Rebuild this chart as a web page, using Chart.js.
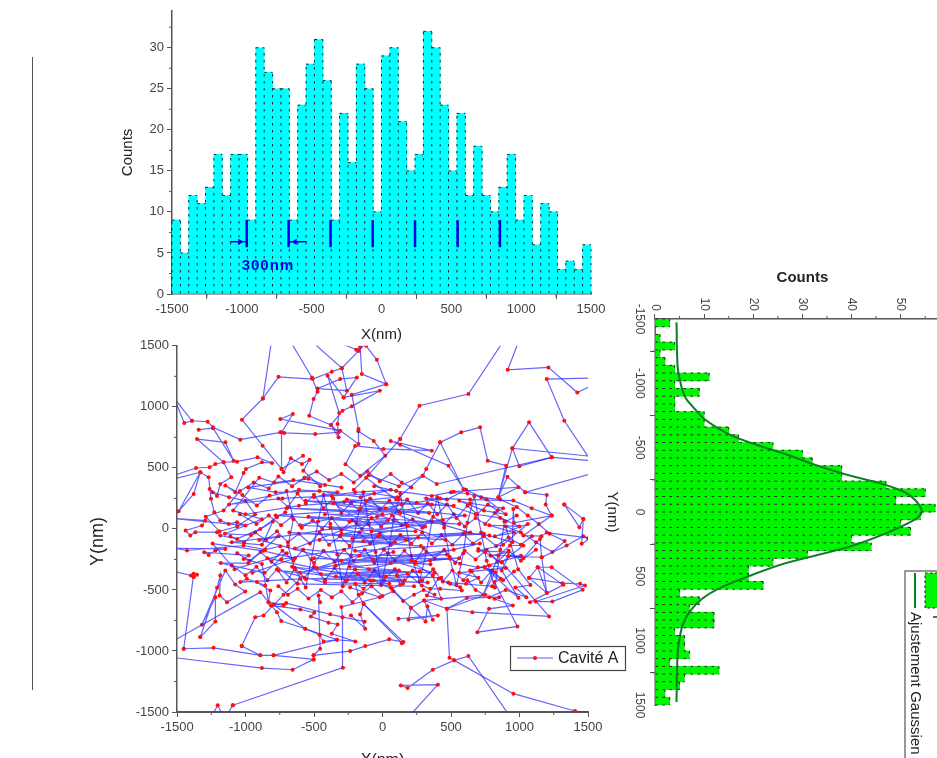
<!DOCTYPE html>
<html>
<head>
<meta charset="utf-8">
<script src="https://cdn.jsdelivr.net/npm/chart.js@4"></script>
<style>
html, body { margin: 0; padding: 0; background: #fff; width: 937px; height: 758px; overflow: hidden; }
canvas { position: absolute; filter: blur(0.35px); }
#rule { position: absolute; left: 32px; top: 57px; width: 1px; height: 633px; background: #555; }
#right { transform-origin: 0 0; transform: rotate(90deg); }
</style>
</head>
<body>
<div id="rule"></div>
<canvas id="bottom" width="650" height="440" style="left:0;top:335px"></canvas>
<canvas id="top" width="640" height="345" style="left:0;top:0"></canvas>
<canvas id="right" width="510" height="360" style="left:960px;top:250px"></canvas>
<script>
// bin centres, same bins for both histograms (nm)
let binCenters = [-1470,-1410,-1350,-1290,-1230,-1170,-1110,-1050,-990,-930,-870,-810,-750,-690,-630,-570,-510,-450,-390,-330,-270,-210,-150,-90,-30,30,90,150,210,270,330,390,450,510,570,630,690,750,810,870,930,990,1050,1110,1170,1230,1290,1350,1410,1470];
let xCounts = [9,5,12,11,13,17,12,17,17,9,30,27,25,25,9,23,28,31,26,9,22,16,28,25,10,29,30,21,15,17,32,30,23,15,22,12,18,12,10,13,17,9,12,6,11,10,3,4,3,6];
let yCounts = [3,0,1,4,1,2,4,11,4,9,4,4,10,10,15,17,24,30,32,38,38,47,55,49,57,54,50,52,40,44,31,24,19,19,22,5,9,7,12,12,4,6,6,7,3,13,6,5,2,3];

// gaussian fit
let fitY = [-1474,-1142,-1039,-883,-805,-727,-649,-584,-519,-454,-364,-286,-221,-156,-78,0,39,91,181,272,337,402,493,596,674,777,881,985,1114,1477];
let fitCounts = [4.4,4.6,5,6.3,8,9.9,12.9,16.2,20.9,26.2,32.8,39.4,46,50.7,53.3,54.3,53.6,51.3,46,39.4,32.8,26.2,19.5,12.9,9.6,7,5.6,5,4.6,4.4];

// cavity marks on the X histogram
let cavityX = [-965,-665,-365,-63,240,545,848];
let cavityLow = 5.7, cavityHigh = 9;
let arrowLeft = [[-1085,6.35],[-965,6.35]];
let arrowRight = [[-535,6.35],[-665,6.35]];
let arrowHeads = [[-1013,6.35],[-620,6.35]];

// trajectory pieces (x, y in nm)
let trackNorthWest = [[-810,1540],[-873,1069],[-1026,895],[-875,682],[-737,491],[-722,464],[-669,578],[-588,532],[-532,567],[-578,477],[-455,349]];
let trackNorth = [[-873,1069],[-759,1246],[-511,1227],[-370,1287],[-297,1317],[-175,1459],[-90,1560]];
let trackNorth2 = [[-669,1530],[-515,1241],[-474,1124],[-503,1064],[-535,927],[-377,851],[-321,791],[-491,777],[-717,786],[-746,791],[-1038,731],[-1237,832],[-1276,878],[-1391,886],[-1447,867],[-1520,1070],[-1391,886]];
let trackNorth3 = [[-510,1530],[-297,1317],[-260,1132],[-474,1150],[-309,1227],[-187,1241],[-284,1077],[-401,1255],[-316,949],[-328,859],[-321,750],[-377,851],[-292,968],[-224,1004],[-20,1132],[-284,1077]];
let trackNorth4 = [[-320,1530],[-175,1459],[-192,1467],[-163,1490],[-151,1268],[27,1186],[-41,1385],[-120,1500]];
let trackNorth5 = [[27,1186],[-224,1100],[-175,818],[-175,696],[-309,805],[-746,900],[-654,941],[-737,791],[-737,491],[-580,600]];
let trackFarLeft = [[-1342,813],[-1237,825],[-1087,559],[-1147,709],[-1354,736],[-1160,546],[-1104,423],[-1184,368],[-1208,270],[-1262,327]];
let trackWave = [[-1520,440],[-1361,499],[-1262,505],[-1220,532],[-1160,546],[-1062,551],[-912,586],[-807,540],[-880,545],[-997,491],[-1014,458],[-1075,300],[-1147,355],[-1023,278],[-917,191],[-824,273]];
let trackLeft = [[-1520,410],[-1330,464],[-1378,286],[-1488,145],[-1330,464],[-1269,423],[-1252,246],[-1228,136],[-1184,68],[-1123,41],[-1062,55],[-1002,27],[-1520,85],[-1293,68],[-1318,28],[-1437,-13],[-1403,-54],[-1366,-27],[-1208,-27],[-1184,-54],[-1062,-82],[-892,0],[-771,95],[-710,136]];
let trackNorthEast = [[129,736],[270,1009],[627,1105],[878,1530]];
let trackEast = [[992,1530],[914,1304],[1211,1323],[1422,1118],[1520,1170]];
let trackEast2 = [[1520,1236],[1199,1227],[1327,886],[1520,560],[1235,586],[1070,873],[948,660],[1520,595]];
let trackEast3 = [[1235,586],[999,513],[948,660],[846,259],[902,518],[768,559],[712,832],[574,791],[421,709],[319,491],[294,436],[100,240],[-120,420],[129,736]];
let trackEast4 = [[421,709],[591,327],[482,518],[129,690],[60,720],[360,641],[7,655],[-200,680],[-270,530],[-163,436],[20,600],[-64,720],[-176,800]];
let trackEast5 = [[1235,586],[396,368],[294,436],[120,350],[-100,440],[-210,320]];
let trackEast6 = [[1520,450],[1041,300],[912,428],[846,259],[992,341],[520,305],[360,270],[100,310],[-60,350]];
let trackEast7 = [[1041,300],[1199,278],[1191,199],[1235,109],[1089,169],[955,232],[640,240],[420,250],[250,215],[120,240]];
let trackEast8 = [[1327,199],[1466,82],[1437,14],[1327,199]];
let trackEast9 = [[1466,82],[1454,-122],[1520,-76],[1199,-30],[1160,-60],[1028,-54],[1235,109],[960,50],[955,164],[948,-109],[780,-55],[600,-30]];
let trackSouthEast = [[1500,-76],[1466,-60],[1344,-136],[1162,-232],[1150,-82],[1028,-240],[919,-224],[1162,-232],[1199,-524],[1070,-401],[1133,-314],[1235,-314],[1461,-499],[1240,-595],[1118,-595],[1478,-464],[1442,-450],[1313,-445],[1070,-401]];
let trackSouthEast2 = [[1077,-600],[1320,-458],[1133,-314],[1199,-524]];
let trackSouth = [[919,-224],[870,-341],[992,-565],[745,-314],[863,-409],[817,-436],[985,-799],[693,-846],[778,-655],[951,-627],[817,-573],[851,-559],[616,-567],[470,-654],[656,-682],[1216,-717],[870,-273]];
let trackSouth2 = [[470,-654],[489,-1055],[523,-1077],[955,-1350],[1405,-1492],[1540,-1510]];
let trackSouth3 = [[914,-1510],[627,-1042],[523,-1077],[367,-1154],[183,-1304],[134,-1282],[404,-1276],[215,-1510]];
let trackSouth4 = [[-503,-1036],[-236,-1001],[-126,-960],[49,-905],[153,-927],[-138,-614],[-163,-700],[-126,-818],[-230,-710]];
let trackSouth5 = [[141,-936],[-138,-614],[-175,-540],[-199,-450],[-138,-491],[-66,-423],[68,-491],[129,-458],[104,-382],[183,-368],[287,-464],[348,-491],[421,-491],[579,-505],[567,-477],[494,-450],[409,-409],[324,-546],[428,-573],[367,-382],[238,-286],[348,-259],[494,-245],[567,-286],[696,-314],[745,-314],[822,-355],[736,-540],[846,-218],[931,-136],[1028,-136],[870,-273],[748,-191],[699,-164]];
let trackSouth6 = [[117,-736],[404,-709],[190,-745],[207,-646],[314,-758],[328,-633],[367,-745],[304,-586],[470,-654],[749,-540],[304,-586],[207,-646],[60,-480]];
let trackSouthWest = [[-1451,-982],[-1233,-974],[-892,-1036],[-795,-1036],[-503,-1069],[-503,-1036],[-455,-982],[-459,-867],[-467,-546],[-455,-600]];
let trackSouthWest2 = [[-1028,-960],[-892,-1036]];
let trackSouthWest3 = [[-1520,-1055],[-880,-1140],[-656,-1154],[-503,-1069]];
let trackSouthWest4 = [[-1245,-1530],[-1203,-1445],[-1160,-1540]];
let trackSouthWest5 = [[-1092,-1445],[-1140,-1530]];
let trackSouthWest6 = [[-1092,-1445],[-289,-1137],[-292,-723],[-300,-640],[-20,-560],[-236,-480]];
let trackSouthWest7 = [[-1520,-914],[-892,-518],[-771,-682],[-739,-755],[-564,-818],[-459,-867],[-430,-922],[-333,-908],[-199,-922],[-370,-859],[-328,-783],[-394,-769],[-523,-717],[-498,-687],[-600,-660],[-814,-627],[-832,-600],[-722,-627]];
let trackSouthWest8 = [[-795,-1036],[-333,-908],[-564,-818],[-795,-620],[-703,-608],[-382,-700],[-130,-760]];
let trackWest = [[-1451,-982],[-1378,-368],[-1354,-376],[-1378,-396],[-1398,-382],[-1520,-349]];
let trackWest2 = [[-1330,-886],[-1208,-483],[-1184,-382],[-1189,-546],[-1135,-600],[-1002,-513],[-1075,-456],[-1147,-341],[-1318,-786],[-1220,-559],[-1220,-758],[-1330,-886]];
let trackWest3 = [[-1028,-960],[-929,-723],[-868,-709],[-723,-540],[-600,-409],[-1038,-436],[-990,-409],[-856,-464],[-917,-436],[-819,-505],[-832,-600],[-880,-287],[-1014,-246],[-977,-218],[-1301,-191],[-1269,-213],[-1220,-177],[-1147,-164],[-1520,-158],[-1427,-177],[-1014,-136],[-856,-169],[-746,-142]];
let trackCore = [[-740,-250],[260,-70],[-600,-360],[80,-190],[-340,-300],[520,-170],[-480,-320],[380,-360],[-200,-180],[710,-120],[-100,-330],[-900,-90],[40,70],[-540,100],[180,30],[-300,-40],[460,-90],[-160,170],[340,130],[-700,170],[0,120],[-420,120],[560,40],[-240,60],[140,200],[-600,30],[240,-20],[-80,-20],[600,110],[-360,210],[90,-110],[-460,-90],[280,-140],[-140,-100],[740,-40],[-30,-60],[-680,-30],[170,-90],[-380,10],[440,70],[-220,-80],[640,-30],[20,170],[-780,110],[310,20],[-120,230],[520,190],[-560,230],[130,130],[-260,240],[360,200],[-40,100],[-640,-160],[210,-260],[-300,-260],[470,-210],[-170,-220],[60,-280],[-500,-240],[350,-290],[-70,-250],[560,-240],[-240,-310],[120,-340],[-450,-370],[270,-350],[-340,-390],[430,-400],[-180,-370],[20,-390],[-560,-410],[160,-420],[-660,-310],[-260,-420],[330,-440],[-90,-420],[-760,-340],[-420,-440],[50,-450],[-840,-240],[-620,-450],[230,-470]];
let trackCore2 = [[-1000,120],[-610,190],[-280,220],[110,260],[-60,290],[-370,270],[-730,250],[-1120,200],[-610,320],[-330,300],[-500,260],[-200,300],[60,320],[-160,260],[-460,310],[-780,300],[-980,340],[-540,410],[-420,360],[-300,340],[-650,400],[-790,380],[-900,420],[-1090,150],[-880,80],[-1150,-40],[-960,-50],[-800,60],[-880,-130],[-1100,-110],[-760,-60],[-980,-280],[-1180,-280],[-860,-360],[-700,-200],[-1080,-330],[-1240,-120],[-870,-180],[-640,-240],[-950,-360]];
let trackCore3 = [[880,170],[640,210],[560,230],[740,150],[900,120],[760,240],[610,320],[470,240],[320,250],[680,120],[860,90],[1000,20],[780,30],[960,-30],[820,-60],[1060,40],[880,-130],[700,-180],[920,-190],[790,-220],[1010,-220],[640,-340],[780,-300],[900,-320],[560,-360],[700,-400],[610,-450],[480,-440],[800,-470]];
let trackBandA = [[-760,250],[-690,180],[-620,290],[-560,210],[-500,280],[-430,170],[-360,250],[-300,130],[-230,210],[-170,150],[-90,250],[-20,160],[50,230],[120,140],[180,240],[260,130],[330,210],[400,120],[470,200],[540,90],[620,190],[690,120],[770,200],[840,150]];
let trackBandB = [[980,110],[900,60],[820,130],[750,40],[680,90],[600,20],[520,120],[450,40],[370,100],[290,10],[220,80],[140,30],[70,110],[-10,20],[-80,90],[-150,0],[-220,70],[-300,-10],[-370,90],[-440,0],[-510,70],[-590,10],[-660,100],[-740,30],[-830,110],[-920,40],[-1040,120]];
let trackBandC = [[-1110,-60],[-1010,-110],[-930,-30],[-850,-90],[-770,-20],[-690,-110],[-610,-40],[-530,-120],[-460,-30],[-390,-130],[-310,-60],[-240,-140],[-170,-30],[-90,-120],[-20,-40],[60,-130],[130,-50],[210,-120],[290,-30],[360,-120],[430,-50],[510,-130],[590,-40],[660,-120],[740,-60],[830,-140],[920,-70],[1010,-130],[1090,-60]];
let trackBandD = [[1120,-170],[1010,-260],[920,-180],[840,-270],[760,-170],[680,-250],[600,-180],[530,-280],[450,-170],[380,-240],[300,-160],[240,-270],[160,-180],[90,-260],[10,-170],[-60,-280],[-130,-170],[-210,-260],[-280,-170],[-350,-270],[-430,-180],[-500,-280],[-580,-170],[-650,-260],[-730,-180],[-810,-270],[-890,-190],[-970,-260],[-1060,-200]];
let trackBandE = [[-1100,-300],[-1000,-380],[-920,-310],[-840,-420],[-770,-330],[-700,-440],[-640,-320],[-570,-400],[-500,-310],[-420,-420],[-350,-320],[-270,-430],[-200,-330],[-130,-440],[-60,-340],[10,-420],[90,-330],[150,-450],[220,-340],[290,-420],[370,-330],[440,-430],[510,-340],[590,-420],[650,-350],[720,-440],[800,-340],[880,-420],[960,-350]];
let trackCross = [[-700,310],[-650,80],[-690,-140],[-640,-330],[-560,-480],[-520,-250],[-470,60],[-430,280],[-380,40],[-330,-210],[-290,-470],[-230,-220],[-190,50],[-140,300],[-100,40],[-50,-190],[-10,-460],[40,-200],[80,70],[130,290],[170,40],[210,-220],[270,-430],[320,-190],[360,60],[400,260],[450,10],[490,-230],[540,-460],[590,-200],[620,50],[670,270],[720,-30],[760,-260],[820,-480],[860,-170],[890,60]];
let trackLeftFill = [[-1240,300],[-1120,260],[-1000,230],[-930,120],[-1060,20],[-1190,-20],[-1290,100],[-1160,150],[-1040,310],[-940,380],[-830,330],[-760,430],[-660,350],[-570,420],[-480,470],[-390,400],[-300,450],[-210,380],[-110,470],[-20,390],[60,450],[140,380],[210,340]];
let trackRightFill = [[500,300],[620,290],[720,260],[860,240],[980,180],[1060,110],[1140,40],[1220,-40],[1330,-100],[1240,-190],[1120,-110],[1010,-30],[900,20],[990,-330],[1080,-460],[970,-480],[1050,-560],[900,-500],[780,-560],[680,-500],[620,-420]];
let trackLowerFill = [[-760,-470],[-690,-540],[-620,-490],[-540,-570],[-450,-500],[-370,-560],[-300,-510],[-220,-600],[-150,-530],[-80,-470],[0,-550],[80,-510],[150,-590],[230,-540],[300,-500],[380,-540]];
let tracks = [trackNorthWest,trackNorth,trackNorth2,trackNorth3,trackNorth4,trackNorth5,trackFarLeft,trackWave,trackLeft,trackNorthEast,trackEast,trackEast2,trackEast3,trackEast4,trackEast5,trackEast6,trackEast7,trackEast8,trackEast9,trackSouthEast,trackSouthEast2,trackSouth,trackSouth2,trackSouth3,trackSouth4,trackSouth5,trackSouth6,trackSouthWest,trackSouthWest2,trackSouthWest3,trackSouthWest4,trackSouthWest5,trackSouthWest6,trackSouthWest7,trackSouthWest8,trackWest,trackWest2,trackWest3,trackCore,trackCore2,trackCore3,trackBandA,trackBandB,trackBandC,trackBandD,trackBandE,trackCross,trackLeftFill,trackRightFill,trackLowerFill];

const axisColor = '#555';
const textColor = '#444';
const fontName = '"Liberation Sans", Arial, sans-serif';

function pairs(xs, ys) {
    return xs.map((x, i) => ({x: x, y: ys[i]}));
}

// origin style dashed bar outline, dots up the bins
const barDash = {
    id: 'barDash',
    afterDatasetDraw(chart, args) {
        if (args.meta.type !== 'bar') return;
        const ctx = chart.ctx;
        const bars = args.meta.data;
        ctx.save();
        ctx.setLineDash([2.5, 4.5]);
        ctx.strokeStyle = '#222';
        ctx.lineWidth = 1;
        bars.forEach((bar, i) => {
            const l = bar.x - bar.width / 2, r = bar.x + bar.width / 2;
            // shared edge only once, up to the taller neighbour
            const prev = i > 0 ? bars[i - 1].y : bar.base;
            ctx.beginPath();
            ctx.moveTo(l, bar.base); ctx.lineTo(l, Math.min(bar.y, prev));
            if (i === bars.length - 1) { ctx.moveTo(r, bar.base); ctx.lineTo(r, bar.y); }
            if (bar.base !== bar.y) { ctx.moveTo(l, bar.y); ctx.lineTo(r, bar.y); }
            ctx.stroke();
        });
        ctx.restore();
    }
};

// unlabelled ticks half way between the labelled ones
const minorTicks = {
    id: 'minorTicks',
    afterDraw(chart) {
        const ctx = chart.ctx;
        ctx.save();
        ctx.strokeStyle = axisColor;
        ctx.lineWidth = 1;
        Object.values(chart.scales).forEach(scale => {
            const step = scale.options.ticks.stepSize;
            for (let v = scale.min + step / 2; v < scale.max; v += step) {
                const p = scale.getPixelForValue(v);
                ctx.beginPath();
                if (scale.isHorizontal()) { ctx.moveTo(p, scale.top); ctx.lineTo(p, scale.top + 3); }
                else { ctx.moveTo(scale.right, p); ctx.lineTo(scale.right - 3, p); }
                ctx.stroke();
            }
        });
        ctx.restore();
    }
};

function xyScales(xOpt, yOpt) {
    function one(o, axis) {
        return {
            type: 'linear',
            offset: false,
            min: o.min, max: o.max,
            grid: {drawOnChartArea: false, tickLength: 5, tickColor: axisColor, tickWidth: 1},
            border: {color: axisColor, width: o.lineWidth || 1.5},
            ticks: {stepSize: o.step, includeBounds: false, autoSkip: false, maxRotation: 0, padding: 3,
                color: textColor, font: {family: fontName, size: o.tickSize},
                callback: v => String(v)},
            title: {display: true, text: o.title, color: '#222',
                font: {family: fontName, size: o.titleSize, weight: o.titleWeight || 'normal'},
                padding: o.titlePad},
            afterFit(scale) {
                if (axis === 'x') scale.height = o.size; else scale.width = o.size;
            }
        };
    }
    return {x: one(xOpt, 'x'), y: one(yOpt, 'y')};
}

// top histogram
const histTop = new Chart(document.getElementById('top'), {
    data: {
        datasets: [
            {type: 'bar', label: 'Counts', order: 2, data: pairs(binCenters, xCounts), backgroundColor: '#00ffff',
                barPercentage: 1, categoryPercentage: 1, borderWidth: 0},
            {type: 'line', label: 'cavities', order: 1, showLine: true, spanGaps: false, pointRadius: 0, borderColor: '#0000e6', borderWidth: 2.5,
                data: cavityX.flatMap(x => [{x: x, y: cavityLow}, {x: x, y: cavityHigh}, {x: x, y: null}])},
            {type: 'line', label: 'arrow', order: 1, pointRadius: 0, borderColor: '#0000e6', borderWidth: 1.5, data: arrowLeft.map(p => ({x: p[0], y: p[1]}))},
            {type: 'line', label: 'arrow', order: 1, pointRadius: 0, borderColor: '#0000e6', borderWidth: 1.5, data: arrowRight.map(p => ({x: p[0], y: p[1]}))},
            {type: 'line', label: 'heads', order: 1, showLine: false, pointStyle: 'triangle', pointRadius: 3.5, pointRotation: [90, -90],
                pointBackgroundColor: '#0000e6', pointBorderWidth: 0, data: arrowHeads.map(p => ({x: p[0], y: p[1]}))}
        ]
    },
    plugins: [barDash, minorTicks, {
        id: 'gapLabel',
        afterDatasetsDraw(chart) {
            const ctx = chart.ctx;
            ctx.save();
            ctx.fillStyle = '#0000e6';
            ctx.font = 'bold 15px ' + fontName;
            ctx.letterSpacing = '1px';
            ctx.textAlign = 'center';
            ctx.textBaseline = 'middle';
            ctx.fillText('300nm', chart.scales.x.getPixelForValue(-813), chart.scales.y.getPixelForValue(3.4));
            ctx.restore();
        }
    }],
    options: {
        responsive: false, animation: false,
        layout: {padding: {left: 0, right: 49, top: 10, bottom: 0}},
        plugins: {legend: {display: false}, tooltip: {enabled: false}},
        scales: xyScales(
            {min: -1500, max: 1500, step: 500, tickSize: 13, title: 'X(nm)', titleSize: 15, titlePad: {top: 0, bottom: 1}, size: 51},
            {min: 0, max: 34.5, step: 5, tickSize: 13, title: 'Counts', titleSize: 15, titlePad: {top: 119, bottom: 0}, size: 172}
        )
    }
});

// trajectory
const pathChart = new Chart(document.getElementById('bottom'), {
    type: 'scatter',
    data: {
        datasets: tracks.map(t => ({
            label: 'Cavité A',
            showLine: true,
            borderColor: 'rgba(40,40,255,0.72)',
            borderWidth: 1.2,
            pointRadius: 2,
            pointBorderWidth: 0,
            pointBackgroundColor: '#ff1010',
            data: t.map(p => ({x: p[0], y: p[1]}))
        }))
    },
    plugins: [minorTicks, {
        id: 'cavityLegend',
        afterDraw(chart) {
            const ctx = chart.ctx;
            ctx.save();
            ctx.strokeStyle = '#444';
            ctx.lineWidth = 1.2;
            ctx.strokeRect(510.5, 311.5, 115, 24);
            ctx.strokeStyle = 'rgba(50,50,255,0.8)';
            ctx.beginPath(); ctx.moveTo(517, 323); ctx.lineTo(553, 323); ctx.stroke();
            ctx.fillStyle = '#ff1010';
            ctx.beginPath(); ctx.arc(535, 323, 2, 0, Math.PI * 2); ctx.fill();
            ctx.fillStyle = '#222';
            ctx.font = '16px ' + fontName;
            ctx.textBaseline = 'middle';
            ctx.fillText('Cavité A', 558, 324);
            ctx.restore();
        }
    }],
    options: {
        responsive: false, animation: false,
        layout: {padding: {left: 0, right: 62, top: 10, bottom: 0}},
        plugins: {legend: {display: false}, tooltip: {enabled: false}},
        scales: xyScales(
            {min: -1500, max: 1500, step: 500, lineWidth: 2, tickSize: 13, title: 'X(nm)', titleSize: 16, titlePad: {top: 0, bottom: 5}, size: 63},
            {min: -1500, max: 1500, step: 500, tickSize: 13, title: 'Y(nm)     ', titleSize: 18, titlePad: {top: 87, bottom: 0}, size: 177}
        )
    }
});

// Y histogram, a plain chart turned a quarter turn by css
const histRight = new Chart(document.getElementById('right'), {
    data: {
        datasets: [
            {type: 'bar', label: 'Y', order: 2, data: pairs(binCenters, yCounts), backgroundColor: '#00f500',
                barPercentage: 1, categoryPercentage: 1, borderWidth: 0},
            {type: 'line', label: 'Ajustement Gaussien', order: 1, data: pairs(fitY, fitCounts), pointRadius: 0,
                borderColor: '#0b7f24', borderWidth: 2, cubicInterpolationMode: 'monotone'}
        ]
    },
    plugins: [barDash, minorTicks, {
        id: 'fitLegend',
        afterDraw(chart) {
            const ctx = chart.ctx;
            ctx.save();
            ctx.strokeStyle = '#777';
            ctx.lineWidth = 1.5;
            ctx.strokeRect(321, -10, 250, 65);
            ctx.fillStyle = '#00f500';
            ctx.fillRect(323, 5, 35, 30);
            ctx.setLineDash([2.5, 2.5]);
            ctx.strokeStyle = '#222';
            ctx.lineWidth = 1;
            ctx.strokeRect(323, 5, 35, 30);
            ctx.setLineDash([]);
            ctx.strokeStyle = '#0b7f24';
            ctx.lineWidth = 2;
            ctx.beginPath(); ctx.moveTo(323, 45); ctx.lineTo(358, 45); ctx.stroke();
            ctx.fillStyle = '#222';
            ctx.font = '15px ' + fontName;
            ctx.textBaseline = 'middle';
            ctx.fillText('Y', 362, 23);
            ctx.fillText('Ajustement Gaussien', 362, 45);
            ctx.restore();
        }
    }],
    options: {
        responsive: false, animation: false,
        layout: {padding: {left: 0, right: 55, top: 3.2, bottom: 0}},
        plugins: {legend: {display: false}, tooltip: {enabled: false}},
        scales: xyScales(
            {min: -1500, max: 1500, step: 500, tickSize: 12, title: 'Y(nm)', titleSize: 15, titlePad: {top: 0, bottom: 3}, size: 55},
            {min: 0, max: 60, step: 10, tickSize: 12, title: 'Counts', titleSize: 15, titleWeight: 'bold', titlePad: {top: 19, bottom: 0}, size: 69}
        )
    }
});
</script>
</body>
</html>
